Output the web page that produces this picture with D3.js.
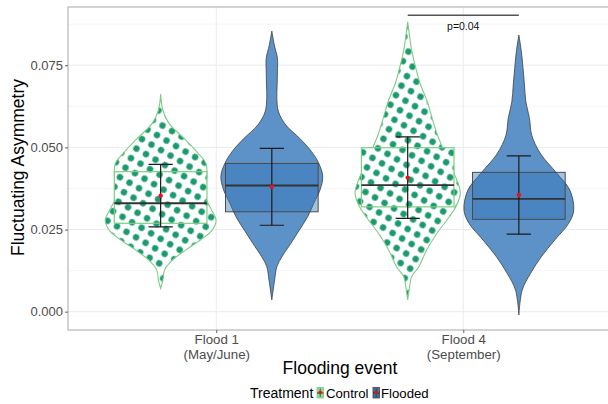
<!DOCTYPE html>
<html>
<head>
<meta charset="utf-8">
<script src="https://cdn.jsdelivr.net/npm/d3@7"></script>
<style>
  html, body { margin: 0; padding: 0; background: #fff; }
  svg { display: block; font-family: "Liberation Sans", Arial, sans-serif; }
</style>
</head>
<body>
<svg id="chart" width="608" height="404"></svg>
<script>
// Flooding events on the x axis (two-line tick labels)
const events = ["Flood 1", "Flood 4"];
const eventSub = ["(May/June)", "(September)"];
const treatments = ["Control", "Flooded"];

// Summary statistics per event, one array per treatment
const q1Control = [0.0269, 0.0319];
const q1Flooded = [0.0304, 0.0281];
const medianControl = [0.0330, 0.0385];
const medianFlooded = [0.0384, 0.0343];
const q3Control = [0.0426, 0.0499];
const q3Flooded = [0.0451, 0.0424];
const meanControl = [0.0353, 0.0408];
const meanFlooded = [0.0380, 0.0355];
const sdControl = [0.0095, 0.0124];
const sdFlooded = [0.0117, 0.0119];

// Kernel density outlines: [value, relative density]
const densControlF1 = [[0.0071,0],[0.0096,0.04],[0.0127,0.07],[0.0157,0.21],[0.0188,0.45],[0.0218,0.71],[0.0248,0.92],[0.0279,0.99],[0.0309,0.91],[0.034,0.82],[0.037,0.78],[0.0401,0.82],[0.0451,0.81],[0.0482,0.67],[0.0522,0.45],[0.0573,0.15],[0.0613,0.04],[0.0662,0]];
const densFloodedF1 = [[0.0036,0],[0.0096,0.05],[0.0137,0.09],[0.0167,0.18],[0.0208,0.34],[0.0248,0.49],[0.0289,0.64],[0.033,0.75],[0.037,0.86],[0.0411,0.91],[0.0451,0.84],[0.0487,0.71],[0.0527,0.5],[0.0568,0.25],[0.0608,0.12],[0.0649,0.09],[0.069,0.095],[0.073,0.1],[0.0771,0.1],[0.0811,0.045],[0.0854,0]];
const densControlF4 = [[0.0036,0],[0.0076,0.035],[0.0106,0.07],[0.0137,0.2],[0.0188,0.34],[0.0238,0.52],[0.0279,0.7],[0.0319,0.86],[0.036,0.94],[0.04,0.88],[0.0441,0.77],[0.0492,0.64],[0.0543,0.52],[0.0593,0.43],[0.0644,0.34],[0.0695,0.22],[0.0745,0.14],[0.0796,0.07],[0.0847,0.027],[0.0882,0]];
const densFloodedF4 = [[-0.001,0],[0.0066,0.06],[0.0117,0.21],[0.0167,0.4],[0.0218,0.64],[0.0269,0.89],[0.0309,0.98],[0.037,0.91],[0.0421,0.68],[0.048,0.39],[0.0537,0.23],[0.0588,0.19],[0.0639,0.125],[0.069,0.1],[0.074,0.075],[0.0791,0.045],[0.0842,0]];

const yTicks = [0.000, 0.025, 0.050, 0.075];
const yMinor = [0.0125, 0.0375, 0.0625, 0.0875];

// Significance annotation between the two Flood 4 groups
const pLabel = "p=0.04";
const pLevel = 0.0902;

const svg = d3.select("#chart");
const W = 608, H = 404;
const panel = { left: 68, top: 7, right: 611.5, bottom: 330 };

const x = d3.scalePoint().domain(events).range([panel.left, panel.right]).padding(0.6);
const step = x.step();
const y = d3.scaleLinear().domain([0, 0.075]).range([311.7, 65.2]);
const dodge = d3.scaleOrdinal().domain(treatments).range([-0.225 * step, 0.225 * step]);
const halfWidth = d3.scaleLinear().domain([0, 1]).range([0, 0.2267 * step]);
const boxHalf = 0.1875 * step;
const capHalf = 0.049 * step;

const colors = {
  ctrlDot: "#1b9a6f", ctrlLine: "#7fcd85",
  floodFill: "#5d92c8", floodBox: "rgba(50,116,184,0.44)", floodLine: "#3f3f3f"
};

const defs = svg.append("defs");
const pat = defs.append("pattern").attr("id", "dots")
  .attr("patternUnits", "userSpaceOnUse").attr("width", 11).attr("height", 11)
  .attr("patternTransform", "rotate(30)");
pat.append("rect").attr("width", 11).attr("height", 11).attr("fill", "#fff");
pat.append("circle").attr("cx", 5.5).attr("cy", 5.5).attr("r", 3.2).attr("fill", colors.ctrlDot);

const clip = defs.append("clipPath").attr("id", "panelClip");
clip.append("rect").attr("x", panel.left).attr("y", panel.top)
  .attr("width", panel.right - panel.left).attr("height", panel.bottom - panel.top);

svg.append("rect").attr("width", W).attr("height", H).attr("fill", "#fff");

// grid
const grid = svg.append("g");
grid.selectAll(".minor").data(yMinor).join("line")
  .attr("x1", panel.left).attr("x2", panel.right)
  .attr("y1", d => y(d)).attr("y2", d => y(d))
  .attr("stroke", "#f3f3f3").attr("stroke-width", 0.8);
grid.selectAll(".major").data(yTicks).join("line")
  .attr("x1", panel.left).attr("x2", panel.right)
  .attr("y1", d => y(d)).attr("y2", d => y(d))
  .attr("stroke", "#ebebeb").attr("stroke-width", 1);
grid.selectAll(".vmajor").data(events).join("line")
  .attr("x1", d => x(d)).attr("x2", d => x(d))
  .attr("y1", panel.top).attr("y2", panel.bottom)
  .attr("stroke", "#ebebeb").attr("stroke-width", 1);

const plot = svg.append("g").attr("clip-path", "url(#panelClip)");

const groups = [];
events.forEach((ev, i) => {
  groups.push({ ev, tr: "Control", dens: i === 0 ? densControlF1 : densControlF4,
    q1: q1Control[i], med: medianControl[i], q3: q3Control[i], mean: meanControl[i], sd: sdControl[i] });
  groups.push({ ev, tr: "Flooded", dens: i === 0 ? densFloodedF1 : densFloodedF4,
    q1: q1Flooded[i], med: medianFlooded[i], q3: q3Flooded[i], mean: meanFlooded[i], sd: sdFlooded[i] });
});

groups.forEach(g => {
  const cx = x(g.ev) + dodge(g.tr);
  const ctrl = g.tr === "Control";
  const area = d3.area()
    .y(d => y(d[0]))
    .x0(d => cx - halfWidth(d[1]))
    .x1(d => cx + halfWidth(d[1]))
    .curve(d3.curveCatmullRom.alpha(0.5));
  plot.append("path").datum(g.dens).attr("d", area)
    .attr("fill", ctrl ? "url(#dots)" : colors.floodFill)
    .attr("stroke", ctrl ? colors.ctrlLine : colors.floodLine)
    .attr("stroke-width", ctrl ? 1.1 : 0.8);
  // interquartile box
  plot.append("rect")
    .attr("x", cx - boxHalf).attr("width", 2 * boxHalf)
    .attr("y", y(g.q3)).attr("height", y(g.q1) - y(g.q3))
    .attr("fill", ctrl ? "url(#dots)" : colors.floodBox)
    .attr("stroke", ctrl ? colors.ctrlLine : "#4a4a4a")
    .attr("stroke-width", ctrl ? 1.2 : 1);
  // median
  plot.append("line")
    .attr("x1", cx - boxHalf).attr("x2", cx + boxHalf)
    .attr("y1", y(g.med)).attr("y2", y(g.med))
    .attr("stroke", "#333").attr("stroke-width", 1.8);
  // mean ± SD error bar
  const eb = plot.append("g").attr("stroke", "#1a1a1a").attr("stroke-width", 1.2);
  eb.append("line").attr("x1", cx).attr("x2", cx)
    .attr("y1", y(g.mean + g.sd)).attr("y2", y(g.mean - g.sd));
  [g.mean + g.sd, g.mean - g.sd].forEach(v => {
    eb.append("line").attr("x1", cx - capHalf).attr("x2", cx + capHalf)
      .attr("y1", y(v)).attr("y2", y(v));
  });
  plot.append("circle").attr("cx", cx).attr("cy", y(g.mean)).attr("r", 2.2).attr("fill", "#e8121b");
});

// significance bracket
const bx1 = x("Flood 4") + dodge("Control"), bx2 = x("Flood 4") + dodge("Flooded");
svg.append("line").attr("x1", bx1).attr("x2", bx2).attr("y1", y(pLevel)).attr("y2", y(pLevel))
  .attr("stroke", "#555").attr("stroke-width", 1.6);
svg.append("text").attr("x", (bx1 + bx2) / 2).attr("y", y(pLevel) + 14.5)
  .attr("text-anchor", "middle").attr("font-size", 10.5).attr("fill", "#111").text(pLabel);

// panel border
svg.append("rect").attr("x", panel.left).attr("y", panel.top)
  .attr("width", panel.right - panel.left).attr("height", panel.bottom - panel.top)
  .attr("fill", "none").attr("stroke", "#b0b0b0").attr("stroke-width", 1.1);

// y axis
const yAxis = svg.append("g").attr("transform", `translate(${panel.left},0)`)
  .call(d3.axisLeft(y).tickValues(yTicks).tickFormat(d3.format(".3f")).tickSize(3).tickPadding(2));
yAxis.select(".domain").remove();
yAxis.selectAll(".tick line").attr("stroke", "#666");
yAxis.selectAll(".tick text").attr("font-size", 13).attr("fill", "#4d4d4d")
  .attr("font-family", "Liberation Sans, Arial, sans-serif");

// x axis
const xAxis = svg.append("g").attr("transform", `translate(0,${panel.bottom})`)
  .call(d3.axisBottom(x).tickSize(3).tickFormat(""));
xAxis.select(".domain").remove();
xAxis.selectAll(".tick line").attr("stroke", "#666");
xAxis.selectAll(".tick text").each(function(d, i) {
  const t = d3.select(this).attr("font-size", 13.3).attr("fill", "#4d4d4d")
    .attr("font-family", "Liberation Sans, Arial, sans-serif").attr("y", 0).attr("dy", null);
  t.append("tspan").attr("x", 0).attr("y", 14).text(d);
  t.append("tspan").attr("x", 0).attr("y", 28.5).text(eventSub[events.indexOf(d)]);
});

// axis titles
svg.append("text").attr("transform", "translate(24,167.5) rotate(-90)")
  .attr("text-anchor", "middle").attr("font-size", 17.5).attr("fill", "#000")
  .text("Fluctuating Asymmetry");
svg.append("text").attr("x", 340).attr("y", 373.5)
  .attr("text-anchor", "middle").attr("font-size", 17.5).attr("fill", "#000")
  .text("Flooding event");

// legend
const lg = svg.append("g");
lg.append("text").attr("x", 250).attr("y", 397.5).attr("font-size", 14).text("Treatment");
const keyX = [317, 373];
const labX = [326, 381];
treatments.forEach((tr, i) => {
  const ctrl = tr === "Control";
  const k = lg.append("g").attr("transform", `translate(${keyX[i]},387.5)`);
  k.append("rect").attr("width", 6.5).attr("height", 10.5)
    .attr("fill", ctrl ? "#8fd597" : "#3f6f9f")
    .attr("stroke", ctrl ? colors.ctrlLine : "#444").attr("stroke-width", 0.8);
  k.append("line").attr("x1", 3.25).attr("x2", 3.25).attr("y1", 1).attr("y2", 9.5)
    .attr("stroke", "#222").attr("stroke-width", 0.6);
  k.append("line").attr("x1", 0).attr("x2", 6.5).attr("y1", 5.5).attr("y2", 5.5)
    .attr("stroke", "#222").attr("stroke-width", 0.8);
  k.append("circle").attr("cx", 3.25).attr("cy", 5).attr("r", 1.8).attr("fill", "#e8121b");
  lg.append("text").attr("x", labX[i]).attr("y", 397.5).attr("font-size", 13.2).text(tr);
});
</script>
</body>
</html>
